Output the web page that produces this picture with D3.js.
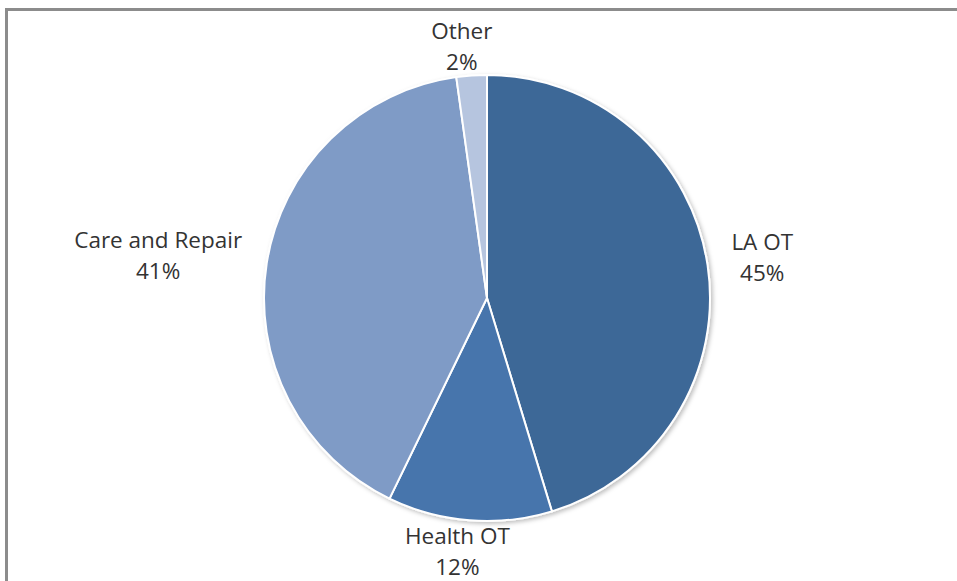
<!DOCTYPE html>
<meta charset="utf-8">
<script src="https://d3js.org/d3.v7.min.js"></script>
<style>
  body { margin: 0; background: #fff; }
  .lbl { font-family: "Open Sans", "Noto Sans", sans-serif; font-size: 22.5px; fill: #333; }
</style>
<body>
<div id="chart"></div>
<script>
// chart data
var categories = ["LA OT", "Health OT", "Care and Repair", "Other"];
var values = [45.3, 11.9, 40.6, 2.2];
var percentLabels = ["45%", "12%", "41%", "2%"];
var colors = ["#3e6797", "#4674ac", "#7f9bc6", "#b6c5df"];

var W = 957, H = 581;
var cx = 487, cy = 298, radius = 223;

var svg = d3.select("#chart").append("svg")
    .attr("width", W)
    .attr("height", H);

// soft shadow like the office chart
var defs = svg.append("defs");
var f = defs.append("filter").attr("id", "shadow")
    .attr("x", "-10%").attr("y", "-10%").attr("width", "120%").attr("height", "120%");
f.append("feDropShadow")
    .attr("dx", 2).attr("dy", 2).attr("stdDeviation", 2)
    .attr("flood-color", "#000").attr("flood-opacity", 0.25);

// frame
svg.append("rect")
    .attr("x", 6.5).attr("y", 9.5)
    .attr("width", 1000).attr("height", 1000)
    .attr("fill", "none")
    .attr("stroke", "#8c8c8c")
    .attr("stroke-width", 3);

var data = categories.map(function(c, i) {
  return {name: c, value: values[i], pct: percentLabels[i], color: colors[i]};
});

var pie = d3.pie().sort(null).value(function(d) { return d.value; });
var arc = d3.arc().innerRadius(0).outerRadius(radius);
var arcs = pie(data);

var g = svg.append("g").attr("transform", "translate(" + cx + "," + cy + ")");

g.append("g").attr("filter", "url(#shadow)")
  .selectAll("path")
  .data(arcs)
  .enter()
  .append("path")
    .attr("d", arc)
    .attr("fill", function(d) { return d.data.color; })
    .attr("stroke", "#fff")
    .attr("stroke-width", 2);

// labels outside the pie, box pushed out along the mid angle
var gap = 5, hpad = 20, halfH = 25;
var labels = g.selectAll(".lab")
  .data(arcs)
  .enter()
  .append("text")
    .attr("class", "lbl")
    .attr("text-anchor", "middle");

labels.append("tspan").attr("x", 0).attr("dy", 0).text(function(d) { return d.data.name; });
labels.append("tspan").attr("x", 0).attr("dy", 31).text(function(d) { return d.data.pct; });

labels.each(function(d) {
  var a = (d.startAngle + d.endAngle) / 2;
  var s = Math.sin(a), c = Math.cos(a);
  var w = this.getBBox().width;
  var x = (radius + gap) * s + (w / 2 + hpad) * s;
  var y = -(radius + gap) * c - halfH * c;
  // y is the centre of the two-line block; first baseline sits a bit above it
  d3.select(this).attr("transform", "translate(" + (x - 6 * Math.abs(c)) + "," + (y - 8 + 2 * Math.abs(c) - 3 * Math.abs(s)) + ")");
});
</script>
</body>
